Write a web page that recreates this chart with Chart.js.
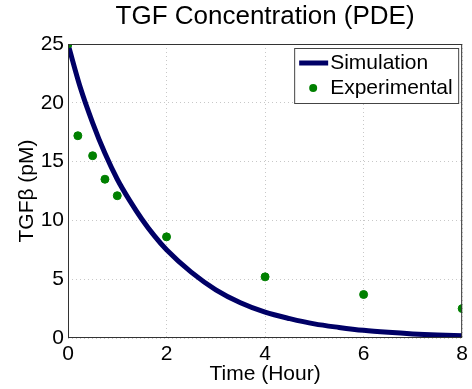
<!DOCTYPE html>
<html>
<head>
<meta charset="utf-8">
<script src="https://cdn.jsdelivr.net/npm/chart.js@4.4.1/dist/chart.umd.min.js"></script>
<style>
html,body{margin:0;padding:0;background:#fff;}
#wrap{width:472px;height:389px;position:relative;}
</style>
</head>
<body>
<div id="wrap"><canvas id="c" width="472" height="389"></canvas></div>
<script>
// Data
const simTime  = [0, 0.25, 0.5, 0.75, 1, 1.25, 1.5, 1.75, 2, 2.5, 3, 3.5, 4, 4.5, 5, 5.5, 6, 6.5, 7, 7.5, 8];
const simValue = [25, 21.3, 18.3, 15.7, 13.5, 11.7, 10.1, 8.7, 7.5, 5.6, 4.1, 3.0, 2.2, 1.65, 1.2, 0.9, 0.65, 0.48, 0.35, 0.26, 0.2];
const expTime  = [0, 0.2, 0.5, 0.75, 1, 2, 4, 6, 8];
const expValue = [25, 17.2, 15.5, 13.5, 12.1, 8.6, 5.2, 3.7, 2.5];
const xTicks = [0, 2, 4, 6, 8];
const yTicks = [0, 5, 10, 15, 20, 25];
const seriesNames = ['Simulation', 'Experimental'];

const FONT = "'Liberation Sans', Arial, sans-serif";
const simColor = '#000066';
const expColor = '#008000';

const legendAndBox = {
  id: 'legendAndBox',
  afterDatasetsDraw(chart) {
    const {ctx, chartArea: a} = chart;
    ctx.save();
    // axes box
    ctx.strokeStyle = '#333';
    ctx.lineWidth = 1;
    ctx.strokeRect(a.left + 0.5, a.top + 0.5, a.right - a.left - 1, a.bottom - a.top - 1);
    // legend
    const lx = a.right - 168, ly = a.top + 4, lw = 164, lh = 55;
    ctx.fillStyle = '#fff';
    ctx.fillRect(lx, ly, lw, lh);
    ctx.strokeStyle = '#444';
    ctx.strokeRect(lx + 0.5, ly + 0.5, lw, lh);
    ctx.strokeStyle = simColor;
    ctx.lineWidth = 5;
    ctx.beginPath();
    ctx.moveTo(lx + 5, ly + 15);
    ctx.lineTo(lx + 34, ly + 15);
    ctx.stroke();
    ctx.fillStyle = expColor;
    ctx.beginPath();
    ctx.arc(lx + 19, ly + 40, 4, 0, Math.PI * 2);
    ctx.fill();
    ctx.fillStyle = '#000';
    ctx.font = '21px ' + FONT;
    ctx.textBaseline = 'middle';
    ctx.textAlign = 'left';
    ctx.fillText(seriesNames[0], lx + 36, ly + 15);
    ctx.fillText(seriesNames[1], lx + 36, ly + 40);
    ctx.restore();
  }
};

new Chart(document.getElementById('c'), {
  type: 'scatter',
  data: {
    datasets: [
      {
        label: seriesNames[0],
        data: simTime.map((t, i) => ({x: t, y: simValue[i]})),
        showLine: true,
        borderColor: simColor,
        borderWidth: 5,
        pointRadius: 0,
        cubicInterpolationMode: 'monotone',
        order: 2
      },
      {
        label: seriesNames[1],
        data: expTime.map((t, i) => ({x: t, y: expValue[i]})),
        showLine: false,
        backgroundColor: expColor,
        borderColor: expColor,
        pointRadius: 4,
        borderWidth: 1,
        pointStyle: 'circle',
        order: 1
      }
    ]
  },
  options: {
    responsive: false,
    animation: false,
    devicePixelRatio: 1,
    layout: {padding: {left: 0, right: 6, top: 0, bottom: 0}},
    plugins: {
      legend: {display: false},
      tooltip: {enabled: false},
      title: {
        display: true,
        text: 'TGF Concentration (PDE)',
        fullSize: false,
        color: '#000',
        font: {family: FONT, size: 26, weight: 'normal', lineHeight: 1.2},
        padding: {top: 1.5, bottom: 11.3}
      }
    },
    scales: {
      x: {
        type: 'linear',
        min: 0, max: 8,
        afterBuildTicks: s => { s.ticks = xTicks.map(v => ({value: v})); },
        afterFit: s => { s.height = 51; },
        grid: {color: '#c8c8c8', drawTicks: false, lineWidth: 1},
        border: {display: false, dash: [1, 3]},
        ticks: {color: '#000', font: {family: FONT, size: 21}, padding: 4, maxRotation: 0},
        title: {display: true, text: 'Time (Hour)', color: '#000', font: {family: FONT, size: 21, lineHeight: 1.2}, padding: {top: 0, bottom: 2}}
      },
      y: {
        type: 'linear',
        min: 0, max: 25,
        afterBuildTicks: s => { s.ticks = yTicks.map(v => ({value: v})); },
        afterFit: s => { s.width = 68; },
        grid: {color: '#c8c8c8', drawTicks: false, lineWidth: 1},
        border: {display: false, dash: [1, 3]},
        ticks: {color: '#000', font: {family: FONT, size: 21}, padding: 4},
        title: {display: true, text: 'TGFβ (pM)', color: '#000', font: {family: FONT, size: 21, lineHeight: 1.2}, padding: {top: 15, bottom: 0}}
      }
    }
  },
  plugins: [legendAndBox]
});
</script>
</body>
</html>
